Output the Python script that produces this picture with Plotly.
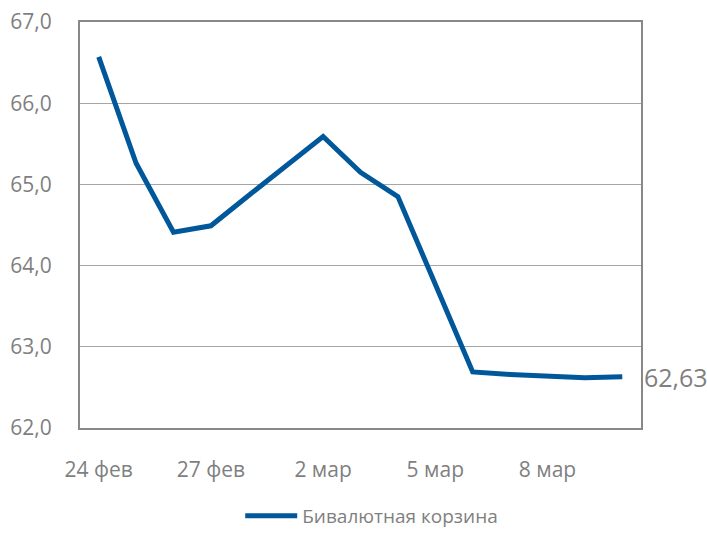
import plotly.graph_objects as go

dates = ["24 фев", "25 фев", "26 фев", "27 фев", "28 фев", "1 мар", "2 мар",
         "3 мар", "4 мар", "5 мар", "6 мар", "7 мар", "8 мар", "9 мар", "10 мар"]
values = [66.57, 65.26, 64.41, 64.49, 64.86, 65.22, 65.59,
          65.15, 64.85, 63.77, 62.69, 62.66, 62.64, 62.62, 62.63]
tick_labels = ["24 фев", "27 фев", "2 мар", "5 мар", "8 мар"]
series_name = "Бивалютная корзина"

FONT = "Open Sans, Calibri, Arial, sans-serif"
GRAY = "#7f7f7f"
LINE = "#00589b"

fig = go.Figure()
fig.add_trace(go.Scatter(
    x=dates, y=values, mode="lines", name=series_name,
    line=dict(color=LINE, width=5),
))

last = values[-1]
fig.add_annotation(
    x=1, xref="paper", y=last, yref="y",
    text=f"{last:.2f}".replace(".", ","),
    showarrow=False, xanchor="left", yanchor="middle", xshift=1,
    font=dict(family=FONT, size=25, color=GRAY),
)

fig.update_layout(
    width=707, height=535,
    margin=dict(l=80, r=66, t=22, b=107, autoexpand=False),
    paper_bgcolor="white", plot_bgcolor="white",
    separators=", ",
    font=dict(family=FONT, size=21, color=GRAY),
    showlegend=True,
    legend=dict(orientation="h", x=0.52, xanchor="center", y=-0.17, yanchor="top",
                itemwidth=52,
                font=dict(family=FONT, size=19, color=GRAY)),
    xaxis=dict(
        type="category", range=[-0.5, len(dates) - 0.5],
        tickmode="array", tickvals=tick_labels, ticktext=tick_labels,
        showgrid=False, showline=True, mirror=True,
        linecolor="#888888", linewidth=2, ticks="", ticklabelstandoff=22,
        tickfont=dict(family=FONT, size=21, color=GRAY),
    ),
    yaxis=dict(
        range=[62, 67], dtick=1, tickformat=".1f",
        showgrid=True, gridcolor="#a6a6a6", gridwidth=1,
        showline=True, mirror=True, linecolor="#888888", linewidth=2,
        ticks="", ticklabelstandoff=22, zeroline=False,
        tickfont=dict(family=FONT, size=21, color=GRAY),
    ),
)

fig.write_html("out.html")
